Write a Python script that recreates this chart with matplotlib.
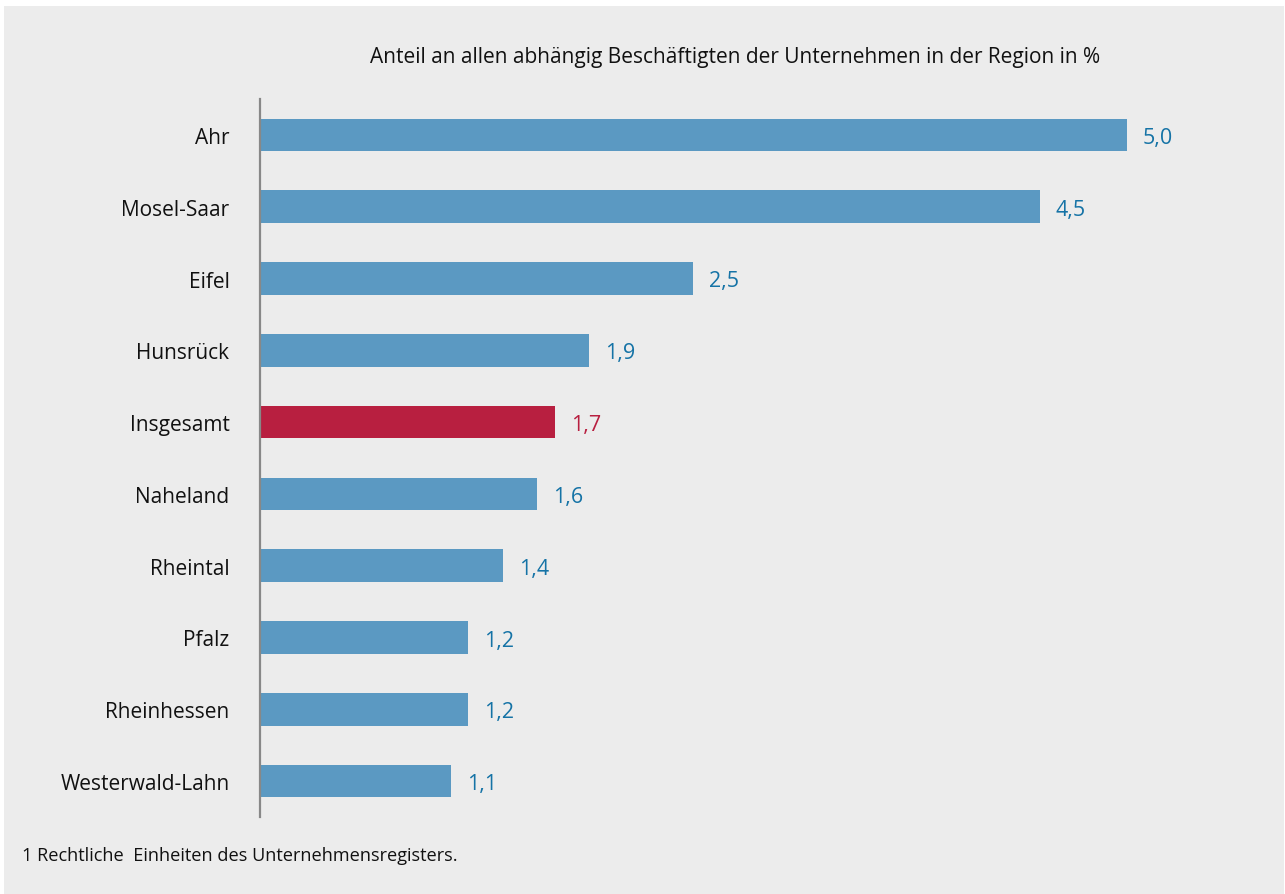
import matplotlib
matplotlib.use('Agg')
import matplotlib.pyplot as plt
from matplotlib.patches import Rectangle

# Data
regions = ['Ahr', 'Mosel-Saar', 'Eifel', 'Hunsrück', 'Insgesamt',
           'Naheland', 'Rheintal', 'Pfalz', 'Rheinhessen', 'Westerwald-Lahn']
values = [5.0, 4.5, 2.5, 1.9, 1.7, 1.6, 1.4, 1.2, 1.2, 1.1]
highlight = 'Insgesamt'
title = 'Anteil an allen abhängig Beschäftigten der Unternehmen in der Region in %'
footnote = '1 Rechtliche  Einheiten des Unternehmensregisters.'

blue_bar = '#5b99c2'
blue_text = '#1573a6'
red = '#b81f40'
bg = '#ececec'

plt.rcParams['font.family'] = ['Open Sans', 'DejaVu Sans']

W, H = 1285, 895
fig = plt.figure(figsize=(W / 100, H / 100), dpi=100)
fig.patch.set_facecolor('white')
fig.patches.append(Rectangle((4 / W, 0), (W - 5) / W, (H - 7) / H,
                             transform=fig.transFigure, facecolor=bg,
                             edgecolor='none', zorder=-10))

# axes placed in pixel coords: left 260, top 100, bottom 818
left, right, top, bottom = 260, 1260, 100, 818
ax = fig.add_axes([left / W, 1 - bottom / H, (right - left) / W, (bottom - top) / H])
ax.set_facecolor('none')

px_per_unit = 173.3
ax.set_xlim(0, (right - left) / px_per_unit)
ax.set_ylim(len(regions) - 0.5, -0.5)

ypos = list(range(len(regions)))
colors = [red if r == highlight else blue_bar for r in regions]
ax.barh(ypos, values, height=0.455, color=colors)

for y, v, r in zip(ypos, values, regions):
    c = red if r == highlight else blue_text
    ax.annotate(f'{v:.1f}'.replace('.', ','), (v, y), xytext=(16, 0),
                textcoords='offset pixels', va='center_baseline', ha='left',
                fontsize=15.5, color=c)

ax.set_yticks(ypos)
ax.set_yticklabels(regions, fontsize=15, color='#111111')
ax.tick_params(axis='y', length=0, pad=22)
ax.set_xticks([])
for s in ['top', 'right', 'bottom']:
    ax.spines[s].set_visible(False)
ax.spines['left'].set_color('#888888')
ax.spines['left'].set_linewidth(1.6)

fig.text(735 / W, 1 - 57 / H, title, ha='center', va='center',
         fontsize=15, color='#111111')
fig.text(22 / W, 1 - 856 / H, footnote, ha='left', va='center',
         fontsize=13.1, color='#111111')

fig.savefig('out.png', dpi=100, facecolor=fig.get_facecolor())
